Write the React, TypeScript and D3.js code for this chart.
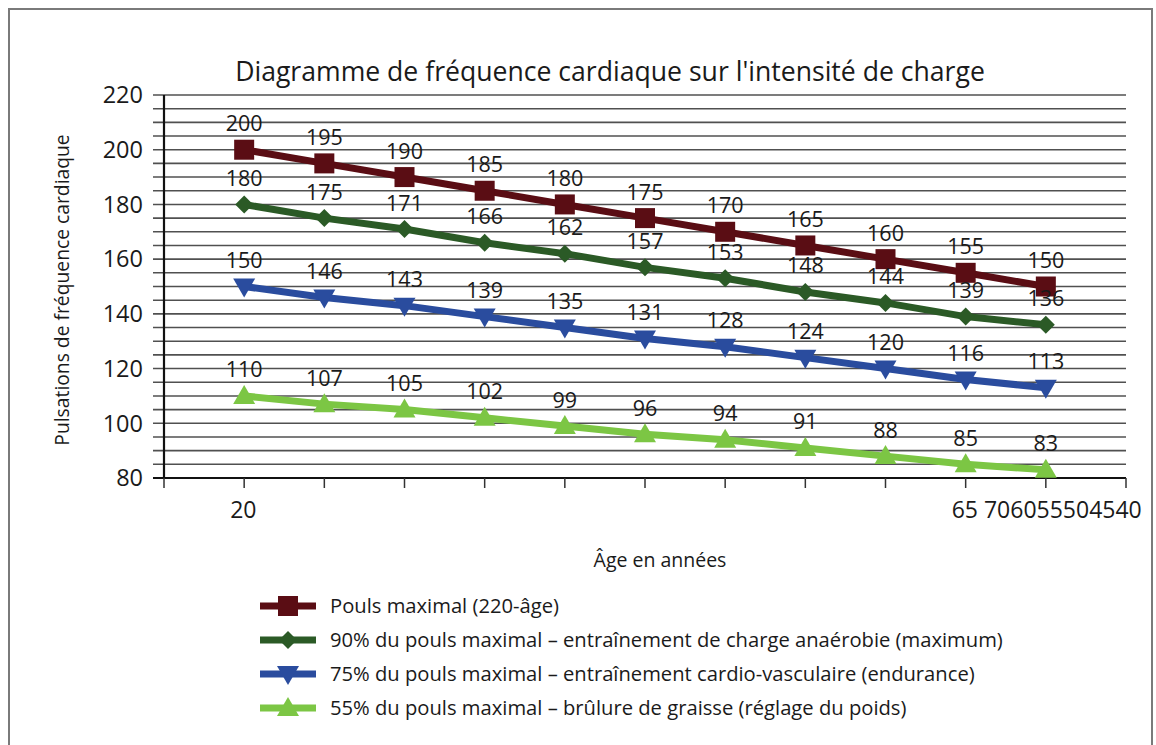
import React from "react";
import * as d3 from "d3";

const ages = [20, 25, 30, 35, 40, 45, 50, 55, 60, 65, 70];
const maxPulse = [200, 195, 190, 185, 180, 175, 170, 165, 160, 155, 150];
const pulse90 = [180, 175, 171, 166, 162, 157, 153, 148, 144, 139, 136];
const pulse75 = [150, 146, 143, 139, 135, 131, 128, 124, 120, 116, 113];
const pulse55 = [110, 107, 105, 102, 99, 96, 94, 91, 88, 85, 83];
const yTicks = [80, 100, 120, 140, 160, 180, 200, 220];
const xTickLabels = [
  { age: 20, label: "20" },
  { age: 65, label: "65 706055504540" },
];
const seriesNames = [
  "Pouls maximal (220-âge)",
  "90% du pouls maximal – entraînement de charge anaérobie (maximum)",
  "75% du pouls maximal – entraînement cardio-vasculaire (endurance)",
  "55% du pouls maximal – brûlure de graisse (réglage du poids)",
];
const seriesColors = ["#5a0d14", "#2b5a26", "#2a4c9e", "#7cc644"];
const seriesShapes = ["square", "diamond", "triangleDown", "triangleUp"];
const seriesValues = [maxPulse, pulse90, pulse75, pulse55];

const FONT = "'Open Sans', 'Noto Sans', sans-serif";

function Marker({ shape, x, y, color }: { shape: string; x: number; y: number; color: string }) {
  if (shape === "square") {
    return <rect x={x - 10} y={y - 10} width={20} height={20} fill={color} />;
  }
  if (shape === "diamond") {
    return <path d={`M${x},${y - 9}L${x + 9},${y}L${x},${y + 9}L${x - 9},${y}Z`} fill={color} />;
  }
  if (shape === "triangleDown") {
    return <path d={`M${x - 11},${y - 8}L${x + 11},${y - 8}L${x},${y + 11}Z`} fill={color} />;
  }
  return <path d={`M${x - 11},${y + 8}L${x + 11},${y + 8}L${x},${y - 11}Z`} fill={color} />;
}

export default function App() {
  const W = 1156;
  const H = 745;
  const left = 164;
  const right = 1126;
  const top = 95;
  const bottom = 478;
  const x = d3.scaleLinear().domain([15, 75]).range([left, right]);
  const y = d3.scaleLinear().domain([80, 220]).range([bottom, top]);
  const gridVals = d3.range(80, 221, 5);
  const xTickVals = d3.range(15, 76, 5);
  const line = d3
    .line<number>()
    .x((_, i) => x(ages[i]))
    .y((d) => y(d));

  return (
    <svg
      width={W}
      height={H}
      style={{ position: "absolute", left: 0, top: 0, background: "#fff" }}
      fontFamily={FONT}
    >
      <rect x={0} y={0} width={W} height={H} fill="#fff" />
      <rect x={9} y={9} width={1143} height={760} fill="none" stroke="#7a7a7a" strokeWidth={2} />
      <text x={610} y={81} textAnchor="middle" fontSize={26.6} fill="#1a1a1a">
        Diagramme de fréquence cardiaque sur l'intensité de charge
      </text>
      {gridVals.map((v) => (
        <line
          key={v}
          x1={153}
          x2={right}
          y1={y(v)}
          y2={y(v)}
          stroke={v === 80 ? "#111" : "#505050"}
          strokeWidth={v === 80 ? 2.2 : 1.6}
        />
      ))}
      <line x1={left} x2={left} y1={top} y2={bottom} stroke="#111" strokeWidth={2.2} />
      {xTickVals.map((v) => (
        <line key={v} x1={x(v)} x2={x(v)} y1={bottom} y2={bottom + 10} stroke="#333" strokeWidth={1.5} />
      ))}
      {yTicks.map((v) => (
        <text key={v} x={143} y={y(v)} dy="0.35em" textAnchor="end" fontSize={23.5} fill="#1a1a1a">
          {v}
        </text>
      ))}
      {xTickLabels.map((t) => (
        <text key={t.age} x={x(t.age) - 14} y={518} fontSize={23} fill="#1a1a1a">
          {t.label}
        </text>
      ))}
      <text
        transform={`translate(69,290) rotate(-90)`}
        textAnchor="middle"
        fontSize={19.3}
        fill="#1a1a1a"
      >
        Pulsations de fréquence cardiaque
      </text>
      <text x={660} y={567} textAnchor="middle" fontSize={19.5} fill="#1a1a1a">
        Âge en années
      </text>
      {seriesValues.map((vals, si) => (
        <g key={si}>
          <path d={line(vals) || ""} fill="none" stroke={seriesColors[si]} strokeWidth={7} />
          {vals.map((v, i) => (
            <Marker key={i} shape={seriesShapes[si]} x={x(ages[i])} y={y(v)} color={seriesColors[si]} />
          ))}
          {vals.map((v, i) => (
            <text
              key={"l" + i}
              x={x(ages[i])}
              y={y(v) - 26}
              dy="0.35em"
              textAnchor="middle"
              fontSize={21.5}
              fill="#1a1a1a"
            >
              {v}
            </text>
          ))}
        </g>
      ))}
      {seriesNames.map((name, si) => {
        const ly = 606 + si * 34;
        return (
          <g key={si}>
            <line x1={260} x2={316} y1={ly} y2={ly} stroke={seriesColors[si]} strokeWidth={7} />
            <Marker shape={seriesShapes[si]} x={288} y={ly} color={seriesColors[si]} />
            <text x={330} y={ly} dy="0.35em" fontSize={20.2} fill="#1a1a1a">
              {name}
            </text>
          </g>
        );
      })}
    </svg>
  );
}
